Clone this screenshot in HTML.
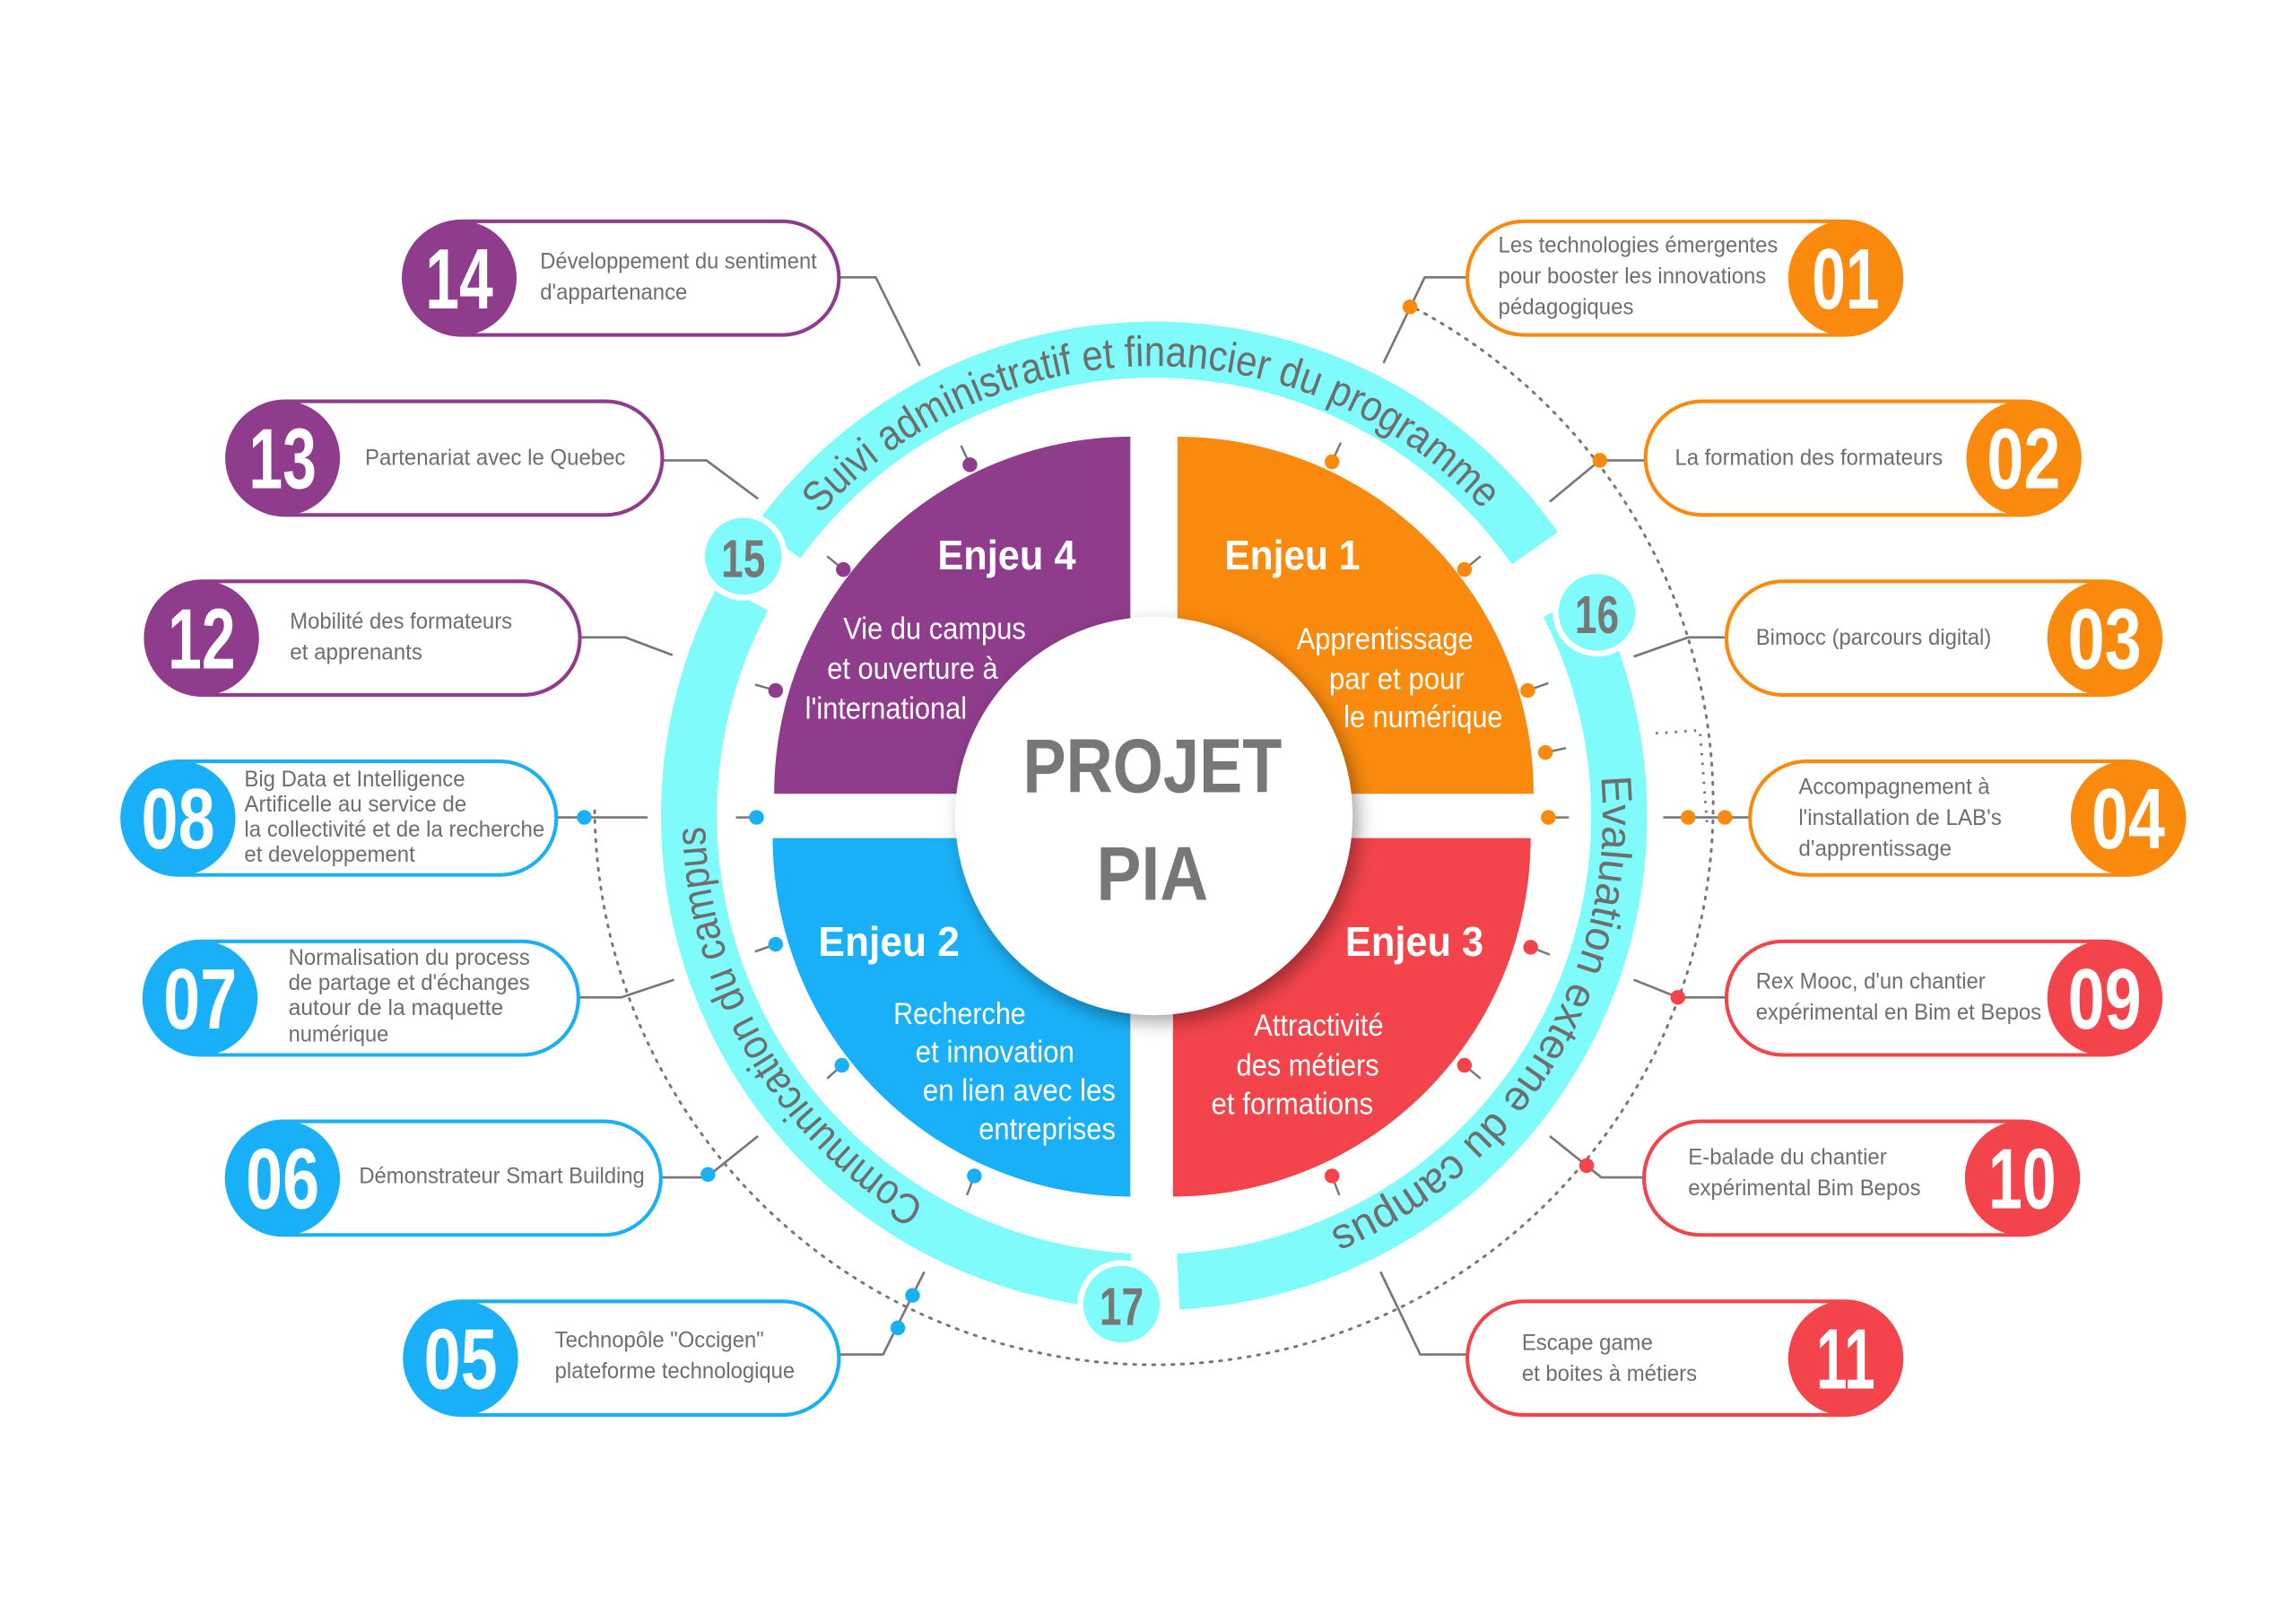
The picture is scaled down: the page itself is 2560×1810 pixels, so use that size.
<!DOCTYPE html>
<html><head><meta charset="utf-8"><style>
html,body{margin:0;padding:0;background:#fff;}
svg{display:block}
.pt{font-family:"Liberation Sans",sans-serif;font-size:15px;fill:#6e6e6e}
.num{font-family:"Liberation Sans",sans-serif;font-weight:bold;font-size:58px;fill:#fff}
.ej{font-family:"Liberation Sans",sans-serif;font-weight:bold;font-size:28px;fill:#fff}
.qt{font-family:"Liberation Sans",sans-serif;font-size:21px;fill:#fff}
.ring{font-family:"Liberation Sans",sans-serif;font-size:29px;fill:#6e6e6e}
.cn{font-family:"Liberation Sans",sans-serif;font-weight:bold;font-size:36px;fill:#777}
.ln{stroke:#777;stroke-width:1.6;fill:none}
</style></head><body>
<svg width="2560" height="1810" viewBox="0 0 1560 1100" preserveAspectRatio="none" xmlns="http://www.w3.org/2000/svg">
<defs>
<filter id="sh" x="-30%" y="-30%" width="160%" height="160%"><feDropShadow dx="4" dy="5" stdDeviation="6" flood-color="#000" flood-opacity="0.35"/></filter>
<path id="tp1" d="M557.4,348.9 A305,305 0 0 1 1007,345"/>
<path id="tp2" d="M1087.8,526.4 A305,305 0 0 1 903.2,833.8"/>
<path id="tp3" d="M628.7,815.6 A305,305 0 0 1 479.1,559.9"/>
</defs>

<!-- dotted arc -->
<path d="M956.5,206.4 A380,380 0 1 1 404,545" fill="none" stroke="#777" stroke-width="1.8" stroke-dasharray="1.5,5" stroke-linecap="round"/>
<path d="M1125,497 L1155,495 L1160,560" fill="none" stroke="#777" stroke-width="1.8" stroke-dasharray="1.5,5"/>

<!-- connectors -->
<g class="ln">
<polyline points="570,188 595,188 625,248"/>
<polyline points="450,312 480,312 515,338"/>
<polyline points="394,432 425,432 457,444"/>
<polyline points="378,554 440,554"/>
<polyline points="393,676 422,676 458,664"/>
<polyline points="449,798 480,798 515,770"/>
<polyline points="570,918 600,918 628,862"/>
<polyline points="997,188 968,188 940,246"/>
<polyline points="1118,312 1087,312 1053,340"/>
<polyline points="1173,432 1147,432 1110,445"/>
<polyline points="1189,554 1130,554"/>
<polyline points="1173,676 1140,676 1110,664"/>
<polyline points="1117,798 1088,798 1053,770"/>
<polyline points="997,918 965,918 938,862"/>
</g>
<g>
<circle cx="397" cy="554" r="5" fill="#1ab0f7"/>
<circle cx="481" cy="796" r="5" fill="#1ab0f7"/>
<circle cx="610" cy="900" r="5" fill="#1ab0f7"/>
<circle cx="620" cy="878" r="5" fill="#1ab0f7"/>
<circle cx="958" cy="208" r="5" fill="#f98a0e"/>
<circle cx="1087" cy="312" r="5" fill="#f98a0e"/>
<circle cx="1147" cy="554" r="5" fill="#f98a0e"/>
<circle cx="1172" cy="554" r="5" fill="#f98a0e"/>
<circle cx="1140" cy="676" r="5" fill="#f2444a"/>
<circle cx="1078" cy="790" r="5" fill="#f2444a"/>
</g>

<!-- cyan ring -->
<g fill="none" stroke="#80fbfb" stroke-width="38">
<path d="M528.4,367.2 A316,316 0 0 1 1042.8,371.6"/>
<path d="M1065.6,409.5 A316,316 0 0 1 800.5,868.6"/>
<path d="M767.5,868.6 A316,316 0 0 1 505,404.8"/>
</g>
<text class="ring"><textPath href="#tp1" textLength="506" lengthAdjust="spacingAndGlyphs">Suivi administratif et financier du programme</textPath></text>
<text class="ring"><textPath href="#tp2" textLength="383" lengthAdjust="spacingAndGlyphs">Evaluation externe du campus</textPath></text>
<text class="ring"><textPath href="#tp3" textLength="309" lengthAdjust="spacingAndGlyphs">Communication du campus</textPath></text>

<g stroke="#fff" stroke-width="4" fill="#80fbfb">
<circle cx="505" cy="377" r="28"/>
<circle cx="1085" cy="415" r="28"/>
<circle cx="762" cy="884" r="28"/>
</g>
<g class="cn" text-anchor="middle">
<text x="505" y="391" textLength="30" lengthAdjust="spacingAndGlyphs">15</text>
<text x="1085" y="429" textLength="30" lengthAdjust="spacingAndGlyphs">16</text>
<text x="762" y="898" textLength="30" lengthAdjust="spacingAndGlyphs">17</text>
</g>

<!-- quadrants -->
<path d="M800,538 L800,296 A242,242 0 0 1 1042,538 Z" fill="#f98a0e"/>
<path d="M768,538 L768,296 A242,242 0 0 0 526,538 Z" fill="#8e3c8b"/>
<path d="M768,568 L768,811 A243,243 0 0 1 525,568 Z" fill="#1ab0f7"/>
<path d="M797,568 L797,811 A243,243 0 0 0 1040,568 Z" fill="#f2444a"/>

<!-- tick dots -->
<g stroke="#777" stroke-width="1.5">
<line x1="659" y1="315" x2="653" y2="302"/><line x1="573" y1="386" x2="562" y2="377"/><line x1="527" y1="468" x2="513" y2="464"/>
<line x1="905" y1="313" x2="911" y2="300"/><line x1="995" y1="386" x2="1006" y2="377"/><line x1="1038" y1="468" x2="1052" y2="463"/><line x1="1050" y1="510" x2="1064" y2="507"/><line x1="1052" y1="554" x2="1066" y2="554"/>
<line x1="514" y1="554" x2="500" y2="554"/><line x1="527" y1="640" x2="513" y2="645"/><line x1="572" y1="722" x2="562" y2="731"/><line x1="662" y1="797" x2="657" y2="810"/>
<line x1="1040" y1="642" x2="1053" y2="647"/><line x1="995" y1="722" x2="1006" y2="731"/><line x1="905" y1="797" x2="910" y2="810"/>
</g>
<g>
<circle cx="659" cy="315" r="5" fill="#8e3c8b"/><circle cx="573" cy="386" r="5" fill="#8e3c8b"/><circle cx="527" cy="468" r="5" fill="#8e3c8b"/>
<circle cx="905" cy="313" r="5" fill="#f98a0e"/><circle cx="995" cy="386" r="5" fill="#f98a0e"/><circle cx="1038" cy="468" r="5" fill="#f98a0e"/><circle cx="1050" cy="510" r="5" fill="#f98a0e"/><circle cx="1052" cy="554" r="5" fill="#f98a0e"/>
<circle cx="514" cy="554" r="5" fill="#1ab0f7"/><circle cx="527" cy="640" r="5" fill="#1ab0f7"/><circle cx="572" cy="722" r="5" fill="#1ab0f7"/><circle cx="662" cy="797" r="5" fill="#1ab0f7"/>
<circle cx="1040" cy="642" r="5" fill="#f2444a"/><circle cx="995" cy="722" r="5" fill="#f2444a"/><circle cx="905" cy="797" r="5" fill="#f2444a"/>
</g>

<!-- center -->
<circle cx="784" cy="553" r="135" fill="#fff" filter="url(#sh)"/>
<g font-family="Liberation Sans, sans-serif" font-weight="bold" fill="#777" text-anchor="middle">
<text x="783" y="537" font-size="52" textLength="176" lengthAdjust="spacingAndGlyphs">PROJET</text>
<text x="783" y="610" font-size="52" textLength="76" lengthAdjust="spacingAndGlyphs">PIA</text>
</g>

<!-- quadrant texts -->
<text class="ej" x="637" y="386" textLength="94" lengthAdjust="spacingAndGlyphs">Enjeu 4</text>
<text class="qt" x="573" y="433" textLength="124" lengthAdjust="spacingAndGlyphs">Vie du campus</text>
<text class="qt" x="562" y="460" textLength="116" lengthAdjust="spacingAndGlyphs">et ouverture à</text>
<text class="qt" x="547" y="487" textLength="110" lengthAdjust="spacingAndGlyphs">l'international</text>

<text class="ej" x="832" y="386" textLength="92" lengthAdjust="spacingAndGlyphs">Enjeu 1</text>
<text class="qt" x="881" y="440" textLength="120" lengthAdjust="spacingAndGlyphs">Apprentissage</text>
<text class="qt" x="903" y="467" textLength="92" lengthAdjust="spacingAndGlyphs">par et pour</text>
<text class="qt" x="913" y="493" textLength="108" lengthAdjust="spacingAndGlyphs">le numérique</text>

<text class="ej" x="556" y="648" textLength="96" lengthAdjust="spacingAndGlyphs">Enjeu 2</text>
<text class="qt" x="607" y="694" textLength="90" lengthAdjust="spacingAndGlyphs">Recherche</text>
<text class="qt" x="622" y="720" textLength="108" lengthAdjust="spacingAndGlyphs">et innovation</text>
<text class="qt" x="627" y="746" textLength="131" lengthAdjust="spacingAndGlyphs">en lien avec les</text>
<text class="qt" x="665" y="772" textLength="93" lengthAdjust="spacingAndGlyphs">entreprises</text>

<text class="ej" x="914" y="648" textLength="94" lengthAdjust="spacingAndGlyphs">Enjeu 3</text>
<text class="qt" x="852" y="702" textLength="88" lengthAdjust="spacingAndGlyphs">Attractivité</text>
<text class="qt" x="840" y="729" textLength="97" lengthAdjust="spacingAndGlyphs">des métiers</text>
<text class="qt" x="823" y="755" textLength="110" lengthAdjust="spacingAndGlyphs">et formations</text>

<!-- pills left -->
<g stroke-width="2.5" fill="#fff">
<rect x="275" y="150" width="295" height="77" rx="38.5" stroke="#8e3c8b"/>
<rect x="155" y="272" width="295" height="77" rx="38.5" stroke="#8e3c8b"/>
<rect x="99" y="394" width="295" height="77" rx="38.5" stroke="#8e3c8b"/>
<rect x="83" y="516" width="295" height="77" rx="38.5" stroke="#1ab0f7"/>
<rect x="98" y="638" width="295" height="77" rx="38.5" stroke="#1ab0f7"/>
<rect x="154" y="760" width="295" height="77" rx="38.5" stroke="#1ab0f7"/>
<rect x="275" y="882" width="295" height="77" rx="38.5" stroke="#1ab0f7"/>
<rect x="997" y="150" width="295" height="77" rx="38.5" stroke="#f98a0e"/>
<rect x="1118" y="272" width="295" height="77" rx="38.5" stroke="#f98a0e"/>
<rect x="1173" y="394" width="295" height="77" rx="38.5" stroke="#f98a0e"/>
<rect x="1189" y="516" width="295" height="77" rx="38.5" stroke="#f98a0e"/>
<rect x="1173" y="638" width="295" height="77" rx="38.5" stroke="#f2444a"/>
<rect x="1117" y="760" width="295" height="77" rx="38.5" stroke="#f2444a"/>
<rect x="997" y="882" width="295" height="77" rx="38.5" stroke="#f2444a"/>
</g>
<g>
<circle cx="312" cy="188.5" r="39" fill="#8e3c8b"/>
<circle cx="192" cy="310.5" r="39" fill="#8e3c8b"/>
<circle cx="137" cy="432.5" r="39" fill="#8e3c8b"/>
<circle cx="121" cy="554.5" r="39" fill="#1ab0f7"/>
<circle cx="136" cy="676.5" r="39" fill="#1ab0f7"/>
<circle cx="192" cy="798.5" r="39" fill="#1ab0f7"/>
<circle cx="313" cy="920.5" r="39" fill="#1ab0f7"/>
<circle cx="1254" cy="188.5" r="39" fill="#f98a0e"/>
<circle cx="1375" cy="310.5" r="39" fill="#f98a0e"/>
<circle cx="1430" cy="432.5" r="39" fill="#f98a0e"/>
<circle cx="1446" cy="554.5" r="39" fill="#f98a0e"/>
<circle cx="1430" cy="676.5" r="39" fill="#f2444a"/>
<circle cx="1374" cy="798.5" r="39" fill="#f2444a"/>
<circle cx="1254" cy="920.5" r="39" fill="#f2444a"/>
</g>
<g class="num" text-anchor="middle">
<text x="312" y="209" textLength="46" lengthAdjust="spacingAndGlyphs">14</text>
<text x="192" y="331" textLength="46" lengthAdjust="spacingAndGlyphs">13</text>
<text x="137" y="453" textLength="46" lengthAdjust="spacingAndGlyphs">12</text>
<text x="121" y="575" textLength="50" lengthAdjust="spacingAndGlyphs">08</text>
<text x="136" y="697" textLength="50" lengthAdjust="spacingAndGlyphs">07</text>
<text x="192" y="819" textLength="50" lengthAdjust="spacingAndGlyphs">06</text>
<text x="313" y="941" textLength="50" lengthAdjust="spacingAndGlyphs">05</text>
<text x="1254" y="209" textLength="46" lengthAdjust="spacingAndGlyphs">01</text>
<text x="1375" y="331" textLength="50" lengthAdjust="spacingAndGlyphs">02</text>
<text x="1430" y="453" textLength="50" lengthAdjust="spacingAndGlyphs">03</text>
<text x="1446" y="575" textLength="50" lengthAdjust="spacingAndGlyphs">04</text>
<text x="1430" y="697" textLength="50" lengthAdjust="spacingAndGlyphs">09</text>
<text x="1374" y="819" textLength="46" lengthAdjust="spacingAndGlyphs">10</text>
<text x="1254" y="941" textLength="40" lengthAdjust="spacingAndGlyphs">11</text>
</g>

<!-- pill texts -->
<g class="pt">
<text x="367" y="182" textLength="188" lengthAdjust="spacingAndGlyphs">Développement du sentiment</text>
<text x="367" y="203" textLength="100" lengthAdjust="spacingAndGlyphs">d'appartenance</text>
<text x="248" y="315" textLength="177" lengthAdjust="spacingAndGlyphs">Partenariat avec le Quebec</text>
<text x="197" y="426" textLength="151" lengthAdjust="spacingAndGlyphs">Mobilité des formateurs</text>
<text x="197" y="447" textLength="90" lengthAdjust="spacingAndGlyphs">et apprenants</text>
<text x="166" y="533" textLength="150" lengthAdjust="spacingAndGlyphs">Big Data et Intelligence</text>
<text x="166" y="550" textLength="151" lengthAdjust="spacingAndGlyphs">Artificelle au service de</text>
<text x="166" y="567" textLength="204" lengthAdjust="spacingAndGlyphs">la collectivité et de la recherche</text>
<text x="166" y="584" textLength="116" lengthAdjust="spacingAndGlyphs">et developpement</text>
<text x="196" y="654" textLength="164" lengthAdjust="spacingAndGlyphs">Normalisation du process</text>
<text x="196" y="671" textLength="164" lengthAdjust="spacingAndGlyphs">de partage et d'échanges</text>
<text x="196" y="688" textLength="146" lengthAdjust="spacingAndGlyphs">autour de la maquette</text>
<text x="196" y="706" textLength="68" lengthAdjust="spacingAndGlyphs">numérique</text>
<text x="244" y="802" textLength="194" lengthAdjust="spacingAndGlyphs">Démonstrateur Smart Building</text>
<text x="377" y="913" textLength="142" lengthAdjust="spacingAndGlyphs">Technopôle "Occigen"</text>
<text x="377" y="934" textLength="163" lengthAdjust="spacingAndGlyphs">plateforme technologique</text>
<text x="1018" y="171" textLength="190" lengthAdjust="spacingAndGlyphs">Les technologies émergentes</text>
<text x="1018" y="192" textLength="182" lengthAdjust="spacingAndGlyphs">pour booster les innovations</text>
<text x="1018" y="213" textLength="92" lengthAdjust="spacingAndGlyphs">pédagogiques</text>
<text x="1138" y="315" textLength="182" lengthAdjust="spacingAndGlyphs">La formation des formateurs</text>
<text x="1193" y="437" textLength="160" lengthAdjust="spacingAndGlyphs">Bimocc (parcours digital)</text>
<text x="1222" y="538" textLength="130" lengthAdjust="spacingAndGlyphs">Accompagnement à</text>
<text x="1222" y="559" textLength="138" lengthAdjust="spacingAndGlyphs">l'installation de LAB's</text>
<text x="1222" y="580" textLength="104" lengthAdjust="spacingAndGlyphs">d'apprentissage</text>
<text x="1193" y="670" textLength="156" lengthAdjust="spacingAndGlyphs">Rex Mooc, d'un chantier</text>
<text x="1193" y="691" textLength="194" lengthAdjust="spacingAndGlyphs">expérimental en Bim et Bepos</text>
<text x="1147" y="789" textLength="135" lengthAdjust="spacingAndGlyphs">E-balade du chantier</text>
<text x="1147" y="810" textLength="158" lengthAdjust="spacingAndGlyphs">expérimental Bim Bepos</text>
<text x="1034" y="915" textLength="89" lengthAdjust="spacingAndGlyphs">Escape game</text>
<text x="1034" y="936" textLength="119" lengthAdjust="spacingAndGlyphs">et boites à métiers</text>
</g>
</svg>
</body></html>
